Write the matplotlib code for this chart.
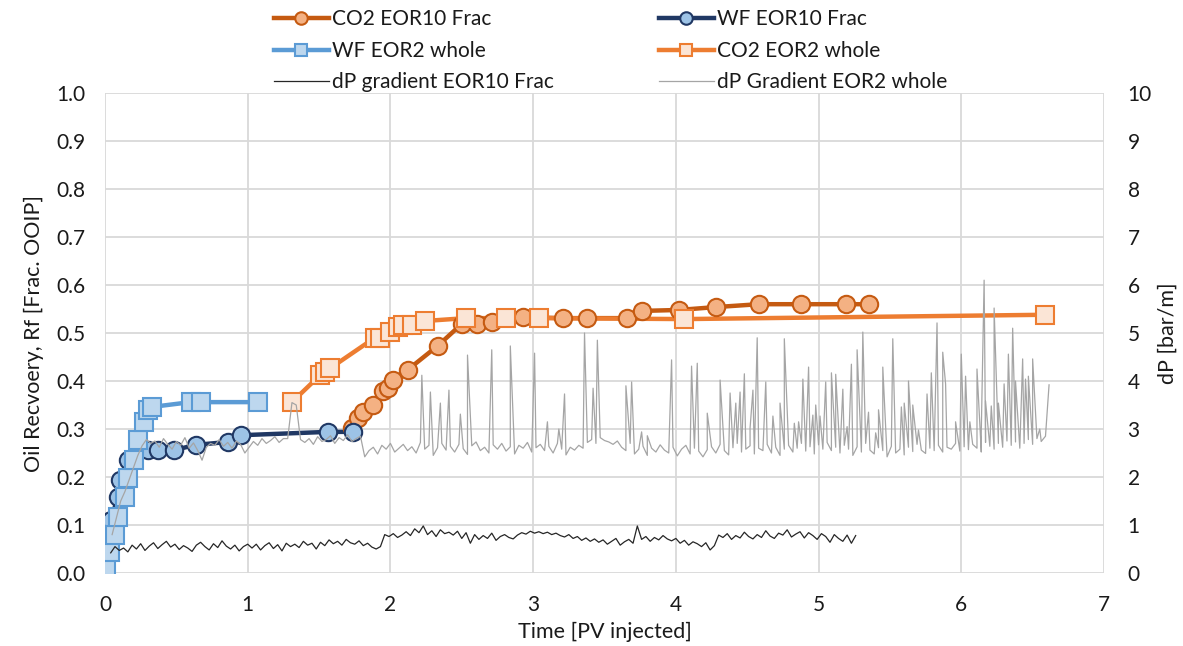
import numpy as np
import matplotlib
matplotlib.use("Agg")
import matplotlib.pyplot as plt
from matplotlib.lines import Line2D

plt.rcParams["font.family"] = ["Lato", "DejaVu Sans"]

# ---- oil recovery series (PV injected, Rf) ----
co2_eor10_x = [1.73, 1.77, 1.81, 1.88, 1.95, 1.98, 2.02, 2.12, 2.33, 2.50, 2.61, 2.71,
               2.93, 3.21, 3.38, 3.66, 3.76, 4.02, 4.28, 4.58, 4.88, 5.19, 5.35]
co2_eor10_y = [0.302, 0.323, 0.335, 0.350, 0.379, 0.385, 0.402, 0.423, 0.473, 0.519, 0.519,
               0.523, 0.533, 0.531, 0.531, 0.531, 0.546, 0.548, 0.554, 0.560, 0.560, 0.560, 0.560]

wf_eor10_x = [0.0, 0.04, 0.09, 0.105, 0.16, 0.30, 0.37, 0.48, 0.64, 0.86, 0.95, 1.56, 1.74]
wf_eor10_y = [0.0, 0.11, 0.158, 0.194, 0.235, 0.256, 0.256, 0.256, 0.267, 0.273, 0.287,
              0.294, 0.294]

wf_eor2_x = [0.0, 0.01, 0.035, 0.07, 0.09, 0.14, 0.16, 0.20, 0.23, 0.27, 0.30, 0.33,
             0.60, 0.67, 1.07]
wf_eor2_y = [0.0, 0.013, 0.044, 0.079, 0.117, 0.158, 0.198, 0.235, 0.277, 0.315, 0.34,
             0.346, 0.356, 0.356, 0.356]

co2_eor2_x = [1.31, 1.51, 1.54, 1.58, 1.89, 1.93, 2.00, 2.05, 2.09, 2.15, 2.24, 2.53,
              2.81, 3.04, 4.06, 6.59]
co2_eor2_y = [0.356, 0.413, 0.419, 0.427, 0.490, 0.490, 0.502, 0.513, 0.517, 0.517, 0.525,
              0.531, 0.531, 0.531, 0.529, 0.538]

# ---- dP gradient traces (bar/m), sampled every DP_STEP PV ----
DP_STEP = 0.03
dp_eor10_x0 = 0.04
dp_eor10 = [0.42, 0.55, 0.47,
            0.52, 0.44, 0.58, 0.50, 0.61, 0.47, 0.56, 0.63, 0.51, 0.59, 0.66, 0.54, 0.60, 0.49, 0.57,
            0.52, 0.45, 0.58, 0.64, 0.55, 0.48, 0.61, 0.53, 0.67, 0.56, 0.50, 0.58, 0.46, 0.55, 0.60,
            0.52, 0.60, 0.48, 0.57, 0.63, 0.51, 0.59, 0.46, 0.62, 0.55, 0.60, 0.53, 0.66, 0.58, 0.62,
            0.50, 0.64, 0.57, 0.69, 0.61, 0.66, 0.58, 0.70, 0.63, 0.60, 0.67, 0.57, 0.62, 0.54, 0.50,
            0.55, 0.80,
            0.76, 0.82, 0.74, 0.79, 0.86, 0.78, 0.92, 0.84, 0.98, 0.80, 0.88, 0.76, 0.90, 0.82, 0.85,
            0.79, 0.87, 0.72, 0.84, 0.62, 0.80,
            0.70, 0.78, 0.72, 0.83, 0.68, 0.76, 0.80, 0.74, 0.71, 0.79, 0.84, 0.81, 0.87, 0.83,
            0.86, 0.82, 0.85, 0.80, 0.83, 0.78, 0.75, 0.80, 0.72, 0.76, 0.68, 0.73, 0.66, 0.71, 0.64,
            0.69, 0.60, 0.66, 0.72, 0.58, 0.65, 0.70, 0.62,
            0.98,
            0.70, 0.76, 0.66, 0.74, 0.69, 0.78, 0.71, 0.67,
            0.72, 0.62, 0.68, 0.58, 0.65, 0.61, 0.55, 0.63, 0.48, 0.57, 0.79,
            0.74, 0.82, 0.70, 0.78, 0.73, 0.85, 0.76, 0.71, 0.80, 0.74, 0.88, 0.77, 0.72, 0.83, 0.79,
            0.90, 0.75, 0.81, 0.86, 0.73, 0.84, 0.78, 0.70, 0.82, 0.76, 0.64, 0.80, 0.72, 0.66, 0.79,
            0.62, 0.78]

dp_eor2_x0 = 0.05
dp_eor2 = [0.80, 1.15, 1.50, 1.70, 1.95, 2.20, 2.45, 2.65, 2.78, 2.70,
           2.75, 2.62, 2.80, 2.68, 2.58, 2.74, 2.66, 2.82, 2.60, 2.71, 2.55, 2.35, 2.62, 2.70,
           2.66, 2.78, 2.64, 2.72, 2.60, 2.75, 2.68, 2.50, 2.62, 2.74, 2.66, 2.80, 2.70, 2.76,
           2.84, 2.72, 2.80,
           2.80, 3.55, 3.50, 2.78,
           2.72, 2.80, 2.68, 2.84, 2.74, 2.78, 2.86, 2.70, 2.82, 2.76, 2.88, 2.74, 2.80, 2.85,
           2.42,
           2.55, 2.62, 2.48, 2.66, 2.58, 2.70, 2.52, 2.60, 2.68, 2.55,
           2.63, 2.50, 2.72, 2.58, 2.66, 2.45, 2.61, 2.70, 2.56, 2.64,
           2.52, 2.68, 2.59, 2.47, 2.65, 2.73, 2.55, 2.62, 2.50, 2.67,
           2.58, 2.70, 2.54, 2.63, 2.48, 2.66, 2.60, 2.72, 2.52, 2.61,
           2.68, 2.55, 2.64, 2.50, 2.70, 2.58, 2.46, 2.62, 2.56, 2.66,
           2.60, 2.72, 2.78, 2.70, 2.82, 2.76, 2.73, 2.68, 2.75, 2.62,
           2.55, 2.70, 2.48, 2.58, 2.64, 2.45, 2.60, 2.52, 2.67, 2.56,
           2.50, 2.62, 2.44, 2.58, 2.66, 2.48, 2.60, 2.54, 2.42, 2.57,
           2.63, 2.50, 2.68, 2.55, 2.46, 2.61, 2.70, 2.52, 2.58, 2.65,
           2.48, 2.60, 2.55, 2.68, 2.50, 2.62, 2.45, 2.58, 2.66, 2.52,
           2.60, 2.70, 2.54, 2.63, 2.48, 2.67, 2.58, 2.72, 2.55, 2.62,
           2.50, 2.66, 2.58, 2.45, 2.63, 2.52, 2.70, 2.56, 2.48, 2.61,
           2.55, 2.42, 2.64, 2.50, 2.58, 2.46, 2.62, 2.53, 2.68, 2.56,
           2.49, 2.60, 2.55, 2.66, 2.52, 2.62, 2.58, 2.70, 2.54, 2.63,
           2.57, 2.68, 2.60, 2.52, 2.72, 2.64, 2.58, 2.70, 2.62, 2.75,
           2.66, 2.73, 2.60, 2.70, 2.78, 2.68, 2.80, 2.74, 2.85]
# pressure spikes on the EOR2 trace (PV, bar/m)
spike_x = [2.22, 2.28, 2.35, 2.41, 2.49, 2.54, 2.71, 2.84, 3.01, 3.10, 3.18, 3.22, 3.36, 3.42,
           3.45, 3.65, 3.69, 3.76, 3.80, 3.97, 4.11, 4.15, 4.22, 4.31, 4.38, 4.42, 4.45, 4.48,
           4.52, 4.54, 4.57, 4.63, 4.68, 4.73, 4.76, 4.83, 4.86, 4.89, 4.93, 4.96, 4.98, 5.01,
           5.05, 5.09, 5.12, 5.17, 5.20, 5.23, 5.27, 5.31, 5.35, 5.40, 5.42, 5.45, 5.52, 5.58,
           5.60, 5.63, 5.66, 5.70, 5.76, 5.79, 5.83, 5.87, 5.89, 5.96, 6.00, 6.03, 6.06, 6.11,
           6.14, 6.16, 6.17, 6.21, 6.23, 6.26, 6.30, 6.33, 6.36, 6.38, 6.43, 6.45, 6.47, 6.50,
           6.55, 6.615]
spike_v = [4.12, 3.77, 3.54, 3.81, 3.31, 4.54, 4.65, 4.73, 4.58, 3.15, 3.00, 3.73, 5.00, 3.85,
           4.85, 3.90, 3.98, 2.94, 2.86, 4.44, 4.31, 4.37, 3.33, 4.02, 3.75, 3.54, 3.77, 4.15,
           3.02, 3.81, 4.90, 3.98, 3.27, 3.54, 4.88, 3.12, 3.15, 4.04, 4.29, 3.29, 3.50, 3.27,
           3.98, 4.17, 4.14, 3.83, 3.05, 4.35, 4.65, 5.02, 3.35, 2.92, 3.40, 4.29, 4.88, 3.46,
           3.54, 4.00, 3.50, 2.98, 3.73, 4.17, 5.21, 4.60, 3.94, 3.15, 4.56, 4.10, 3.15, 4.25,
           2.94, 6.10, 3.58, 3.48, 5.52, 3.54, 3.94, 4.56, 5.10, 4.00, 4.46, 4.04, 4.10, 4.46,
           3.00, 3.92]

fig = plt.figure(figsize=(11.83, 6.46), dpi=100)
ax = fig.add_axes([105 / 1183, 73 / 646, 999 / 1183, 480 / 646])
ax2 = ax.twinx()

GRID = "#d9d9d9"
TXT = "#1a1a1a"
ax.set_xlim(0, 7)
ax.set_ylim(0, 1)
ax2.set_ylim(0, 10)
ax.set_xticks(np.arange(0, 8, 1))
ax.set_yticks(np.arange(0, 1.01, 0.1))
ax2.set_yticks(np.arange(0, 11, 1))
ax.set_yticklabels([f"{v:.1f}" for v in np.arange(0, 1.01, 0.1)])
ax.grid(True, color=GRID, linewidth=1.3, zorder=0)
ax.set_axisbelow(True)
for a in (ax, ax2):
    for s in a.spines.values():
        s.set_visible(False)
ax.tick_params(axis="both", length=0, labelsize=15, colors=TXT)
ax.tick_params(axis="y", pad=14)
ax.tick_params(axis="x", pad=16)
ax2.tick_params(axis="y", length=0, labelsize=15, colors=TXT, pad=17)

ax.set_xlabel("Time [PV injected]", fontsize=15.5, color=TXT, labelpad=5)
ax.set_ylabel("Oil Recvoery, Rf [Frac. OOIP]", fontsize=15.5, color=TXT, labelpad=9)
ax2.set_ylabel("dP [bar/m]", fontsize=15.5, color=TXT, labelpad=4)

series = [
    ("CO2 EOR10 Frac", co2_eor10_x, co2_eor10_y, "#c55a11", "#f4b183", "o"),
    ("WF EOR10 Frac", wf_eor10_x, wf_eor10_y, "#203864", "#9dc3e6", "o"),
    ("WF EOR2 whole", wf_eor2_x, wf_eor2_y, "#5b9bd5", "#bdd7ee", "s"),
    ("CO2 EOR2 whole", co2_eor2_x, co2_eor2_y, "#ed7d31", "#fbe5d6", "s"),
]
handles = {}
for name, xs, ys, lc, fc, mk in series:
    ax.plot(xs, ys, color=lc, linewidth=3.2, zorder=2, solid_capstyle="round")
for name, xs, ys, lc, fc, mk in series:
    ax.plot(xs, ys, linestyle="none", marker=mk, markersize=12.5, markerfacecolor=fc,
            markeredgecolor=lc, markeredgewidth=1.5, zorder=3)
    handles[name] = Line2D([], [], color=lc, linewidth=3.2, marker=mk, markersize=9,
                           markerfacecolor=fc, markeredgecolor=lc, markeredgewidth=1.5)

# dP traces on the secondary axis
x10 = dp_eor10_x0 + DP_STEP * np.arange(len(dp_eor10))
ax2.plot(x10, dp_eor10, color="#262626", linewidth=0.9, zorder=4)
x2 = dp_eor2_x0 + DP_STEP * np.arange(len(dp_eor2))
gx = np.concatenate([x2, spike_x])
gv = np.concatenate([dp_eor2, spike_v])
order = np.argsort(gx, kind="stable")
ax2.plot(gx[order], gv[order], color="#a5a5a5", linewidth=0.9, zorder=4)
handles["dP gradient EOR10 Frac"] = Line2D([], [], color="#262626", linewidth=0.9)
handles["dP Gradient EOR2 whole"] = Line2D([], [], color="#a5a5a5", linewidth=0.9)

col1 = ["CO2 EOR10 Frac", "WF EOR2 whole", "dP gradient EOR10 Frac"]
col2 = ["WF EOR10 Frac", "CO2 EOR2 whole", "dP Gradient EOR2 whole"]
for names, x0 in ((col1, 265 / 1183), (col2, 650 / 1183)):
    leg = fig.legend([handles[n] for n in names], names, loc="upper left",
                     bbox_to_anchor=(x0, 1.0), frameon=False, fontsize=15,
                     handlelength=2.6, handletextpad=0.15, labelspacing=0.55,
                     borderaxespad=0.05, labelcolor=TXT)

fig.savefig("out.png", dpi=100)
